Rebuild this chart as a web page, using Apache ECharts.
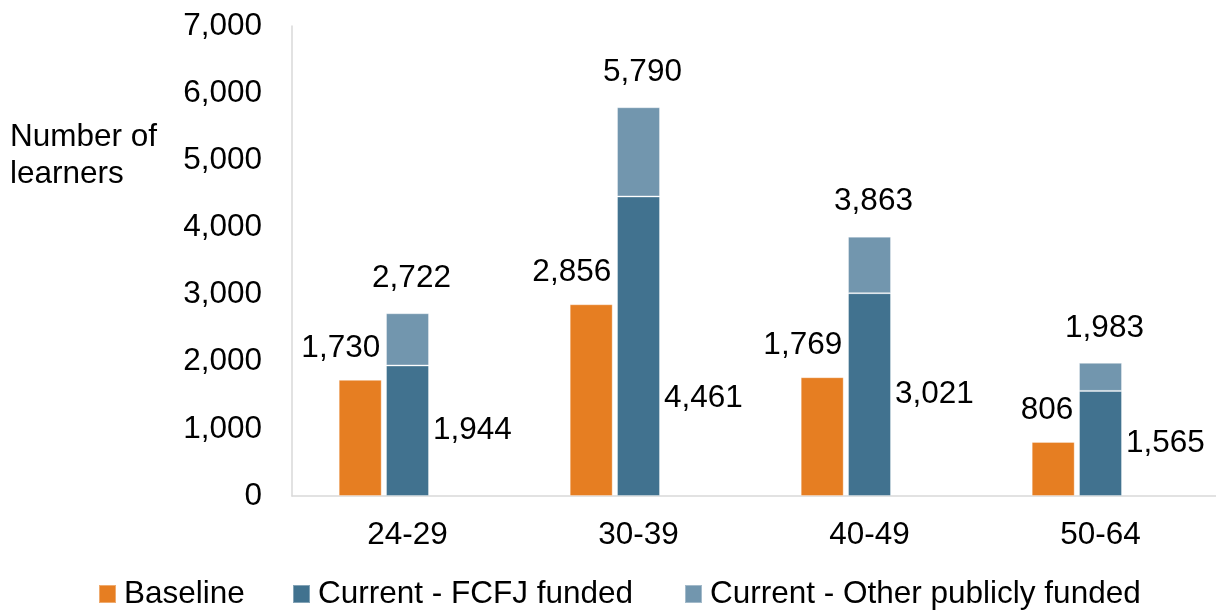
<!DOCTYPE html>
<html>
<head>
<meta charset="utf-8">
<script src="https://cdn.jsdelivr.net/npm/echarts@6/dist/echarts.min.js"></script>
<style>
  html, body { margin: 0; padding: 0; background: #fff; }
  #chart { width: 1216px; height: 614px; }
</style>
</head>
<body>
<div id="chart"></div>
<script>
// 数据
const categories = ['24-29', '30-39', '40-49', '50-64']
const baseline = [1730, 2856, 1769, 806]
const fcfjFunded = [1944, 4461, 3021, 1565]
const currentTotal = [2722, 5790, 3863, 1983]
const otherFunded = currentTotal.map((t, i) => t - fcfjFunded[i])
const yTicks = [0, 1000, 2000, 3000, 4000, 5000, 6000, 7000]

const FONT = 'Liberation Sans, Arial, sans-serif'
const FS = 31.5
const fmt = v => Number(v).toLocaleString('en-US')

const chart = echarts.init(document.getElementById('chart'))

const legendBase = {
  top: 573,
  padding: [5, 0, 5, 0],
  itemWidth: 17,
  itemHeight: 18,
  icon: 'rect',
  textStyle: { fontFamily: FONT, fontSize: FS, color: '#000', padding: [0, 0, 0, 3] }
}

const option = {
  animation: false,
  textStyle: { fontFamily: FONT },
  grid: { left: 292, width: 924, top: 26, bottom: 118 },
  legend: [
    Object.assign({ left: 98, data: ['Baseline'] }, legendBase),
    Object.assign({ left: 292, data: ['Current - FCFJ funded'] }, legendBase),
    Object.assign({ left: 684, data: ['Current - Other publicly funded'] }, legendBase)
  ],
  graphic: [{
    type: 'text',
    left: 10,
    top: 119,
    style: {
      text: 'Number of\nlearners',
      font: FS + 'px ' + FONT,
      fill: '#000',
      lineHeight: 37,
      align: 'center'
    },
    x: 84
  }],
  xAxis: {
    type: 'category',
    data: categories,
    axisLine: { lineStyle: { color: '#d9d9d9', width: 1.5 } },
    axisTick: { show: false },
    axisLabel: { fontSize: FS, color: '#000', margin: 23 }
  },
  yAxis: {
    type: 'value',
    min: yTicks[0],
    max: yTicks[yTicks.length - 1],
    interval: 1000,
    splitLine: { show: false },
    axisLine: { show: true, lineStyle: { color: '#d9d9d9', width: 1.5 } },
    axisTick: { show: false },
    axisLabel: { fontSize: FS, color: '#000', margin: 30, formatter: v => fmt(v) }
  },
  series: [
    {
      name: 'Baseline',
      type: 'bar',
      stack: 'a',
      barWidth: 43,
      barGap: '10%',
      data: baseline,
      itemStyle: { color: '#E67E22', borderColor: 'rgba(255,255,255,0.35)', borderWidth: 1 },
      label: {
        show: true,
        position: 'top',
        align: 'right',
        distance: 16,
        offset: [20, 0],
        fontSize: FS,
        color: '#000',
        formatter: p => fmt(p.value)
      }
    },
    {
      name: 'Current - FCFJ funded',
      type: 'bar',
      stack: 'b',
      barWidth: 43,
      data: fcfjFunded.map((v, i) => i === 1
        ? { value: v, label: { offset: [0, 52] } }
        : v),
      itemStyle: { color: '#41728F', borderColor: 'rgba(255,255,255,0.35)', borderWidth: 1 },
      label: {
        show: true,
        position: 'right',
        distance: 4,
        fontSize: FS,
        color: '#000',
        formatter: p => fmt(p.value)
      }
    },
    {
      name: 'Current - Other publicly funded',
      type: 'bar',
      stack: 'b',
      barWidth: 43,
      data: otherFunded,
      itemStyle: { color: '#7296AE', borderColor: 'rgba(255,255,255,0.35)', borderWidth: 1 },
      label: {
        show: true,
        position: 'top',
        distance: 19,
        offset: [4, 0],
        fontSize: FS,
        color: '#000',
        formatter: p => fmt(currentTotal[p.dataIndex])
      }
    },
    {
      // 空白占位列
      name: 'pad',
      type: 'bar',
      stack: 'c',
      barWidth: 43,
      data: categories.map(() => null),
      itemStyle: { color: 'transparent' }
    }
  ]
}

chart.setOption(option)
</script>
</body>
</html>
